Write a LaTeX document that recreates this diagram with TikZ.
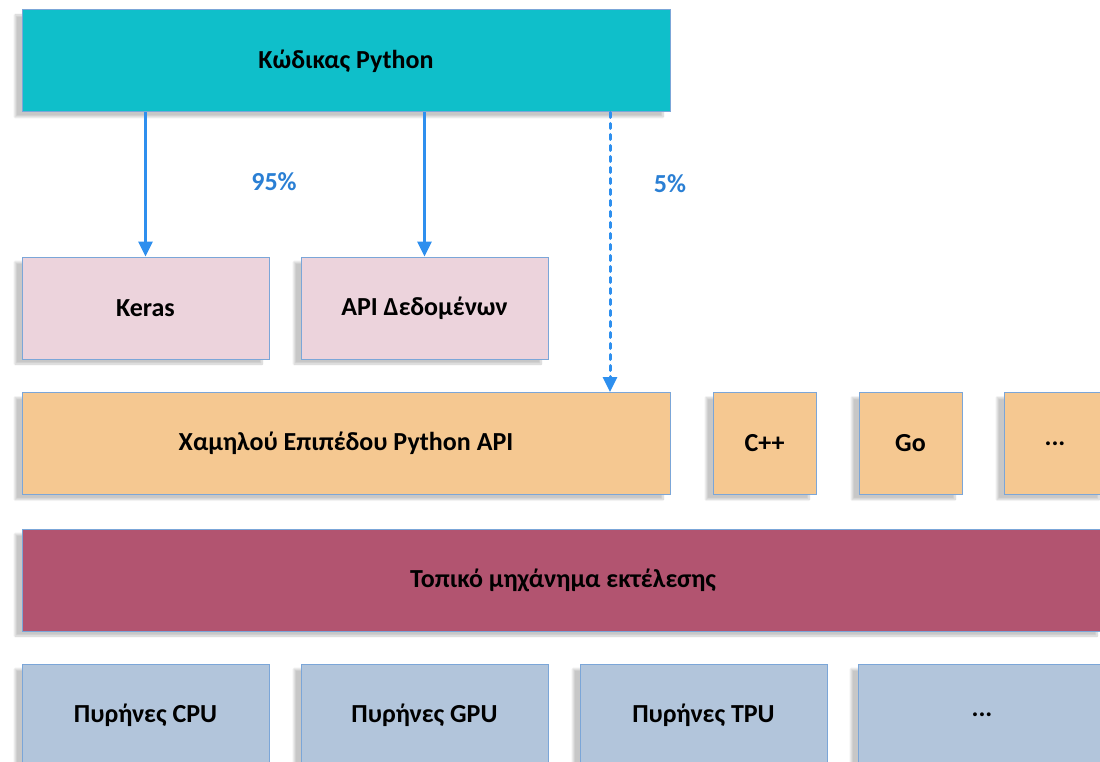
\documentclass[tikz,border=0pt]{standalone}
\usepackage{fontspec}
\setmainfont{Carlito}
\usetikzlibrary{arrows.meta,shadows.blur}
\definecolor{teal1}{HTML}{0FBFCA}
\definecolor{pink1}{HTML}{ECD3DC}
\definecolor{orange1}{HTML}{F5C891}
\definecolor{maroon1}{HTML}{B25470}
\definecolor{grayblue}{HTML}{B2C5DB}
\definecolor{edge1}{HTML}{7BA6D8}
\definecolor{arrow1}{HTML}{2E8FEE}
\definecolor{label1}{HTML}{2A7FD4}
\tikzset{
  box/.style={draw=edge1, line width=1pt, minimum height=102pt, inner sep=0pt,
    font=\fontsize{26pt}{30pt}\selectfont\bfseries, text=black,
    blur shadow={shadow xshift=-7pt, shadow yshift=-5pt, shadow opacity=22, shadow blur steps=10}},
  flow/.style={draw=arrow1, line width=3pt, -{Triangle[width=14pt,length=15pt]}},
  dotflow/.style={flow, dash pattern=on 5pt off 6pt, line cap=round},
  pct/.style={text=label1, font=\fontsize{26pt}{30pt}\selectfont\bfseries}
}
\begin{document}
\begin{tikzpicture}[x=1pt,y=-1pt]
\useasboundingbox (0,0) rectangle (1100,762);
% top
\node[box, fill=teal1, minimum width=648pt] (py) at (346,61) {Κώδικας Python};
% second row
\node[box, fill=pink1, minimum width=247pt] (keras) at (145.5,308) {Keras};
\node[box, fill=pink1, minimum width=247pt] (data) at (424.5,308) {API Δεδομένων};
% third row
\node[box, fill=orange1, minimum width=648pt] (low) at (346,443.5) {Χαμηλού Επιπέδου Python API};
\node[box, fill=orange1, minimum width=103pt] (cpp) at (764.5,443.5) {C++};
\node[box, fill=orange1, minimum width=103pt] (go) at (910.5,443.5) {Go};
\node[box, fill=orange1, minimum width=102pt] (more1) at (1055,443.5) {...};
% fourth row
\node[box, fill=maroon1, minimum width=1082pt] (exec) at (563,580) {Τοπικό μηχάνημα εκτέλεσης};
% bottom row
\node[box, fill=grayblue, minimum width=247pt] (cpu) at (145.5,715) {Πυρήνες CPU};
\node[box, fill=grayblue, minimum width=247pt] (gpu) at (424.5,715) {Πυρήνες GPU};
\node[box, fill=grayblue, minimum width=247pt] (tpu) at (703.5,715) {Πυρήνες TPU};
\node[box, fill=grayblue, minimum width=248pt] (more2) at (982,715) {...};
% arrows
\draw[flow] (py.south -| keras.center) -- (keras.north);
\draw[flow] (py.south -| data.center) -- (data.north);
\coordinate (dtop) at ([xshift=264pt]py.south);
\draw[dotflow] (dtop) -- (dtop |- low.north);
% labels
\node[pct] (p95) at (274,182) {95\%};
\node[pct] (p5) at (670,184) {5\%};
\end{tikzpicture}
\end{document}
